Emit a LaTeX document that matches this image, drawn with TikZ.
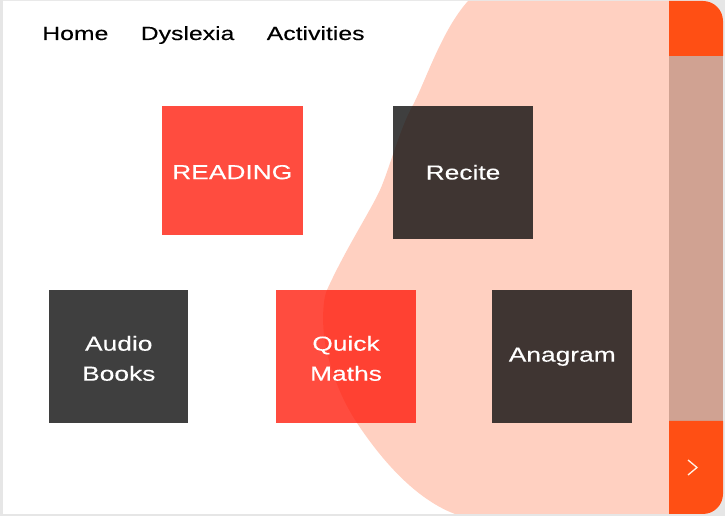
\documentclass[tikz,border=0pt]{standalone}
\usepackage{fontspec}
\setmainfont[FakeStretch=1.3,FakeBold=0.25]{Liberation Sans}
\usepackage{tikz}
\definecolor{pagegray}{HTML}{E6E6E6}
\definecolor{blobpink}{HTML}{FFD0C1}
\definecolor{barorange}{HTML}{FF4F14}
\definecolor{barbrown}{HTML}{D0A292}
\definecolor{tilered}{HTML}{FF1A0A}
\definecolor{tiledark}{HTML}{0A0A0A}
\newcommand{\tilestrut}{\rule{0pt}{13.5pt}}
\tikzset{
	navlink/.style={anchor=base west,inner sep=0pt,text=black,font=\fontsize{14.3}{22.5}\selectfont},
	tile/.style={anchor=north west,inner sep=0pt,align=center,fill opacity=0.78,text opacity=1,text=white,font=\fontsize{15.2}{22.5}\selectfont},
	redtile/.style={tile,fill=tilered},
	darktile/.style={tile,fill=tiledark},
}
\begin{document}
\begin{tikzpicture}[x=0.75pt,y=-0.75pt]
	\useasboundingbox (0,0) rectangle (725,516);
	\fill[pagegray] (0,0) rectangle (725,516);
	
	%white panel
	\fill[white] (3,1) [rounded corners=15pt] -- (723,1) -- (723,514) [sharp corners] -- (3,514) -- cycle;
	
	%blob behind the tiles
	\fill[blobpink] (468,1) .. controls (442,30) and (426,80) .. (413,105)
	.. controls (400,128) and (389,170) .. (380,190)
	.. controls (371,210) and (345,250) .. (327,290)
	.. controls (322,301) and (322,330) .. (326,348)
	.. controls (332,375) and (342,400) .. (357,423)
	.. controls (375,450) and (410,497) .. (455,514)
	-- (680,514) -- (680,1) -- cycle;
	
	%side bar
	\fill[barbrown] (669,56) rectangle (723,421);
	\fill[barorange] (669,1) [rounded corners=15pt] -- (723,1) [sharp corners] -- (723,56) -- (669,56) -- cycle;
	\fill[barorange] (669,421) -- (723,421) [rounded corners=15pt] -- (723,514) [sharp corners] -- (669,514) -- cycle;
	\draw[white!90!orange,line width=1pt] (688,460)--(697,467.5)--(688,475);
	
	%top links
	\node[navlink] (home) at (42,40) {Home};
	\node[navlink] (dyslexia) at (140.5,40) {Dyslexia};
	\node[navlink] (activities) at (266.5,40) {Activities};
	
	%tiles
	\node[redtile,minimum width=105.75pt,minimum height=96.75pt] (reading) at (161.5,105.5) {\tilestrut READING};
	\node[darktile,minimum width=104.6pt,minimum height=99.75pt] (recite) at (393,105.5) {Recite};
	\node[darktile,minimum width=104.25pt,minimum height=99.75pt] (audio) at (49,290) {\tilestrut Audio\\Books};
	\node[redtile,minimum width=104.6pt,minimum height=99.75pt] (quick) at (276,290) {\tilestrut Quick\\Maths};
	\node[darktile,minimum width=105pt,minimum height=99.75pt] (anagram) at (492,290) {Anagram};
\end{tikzpicture}
\end{document}
